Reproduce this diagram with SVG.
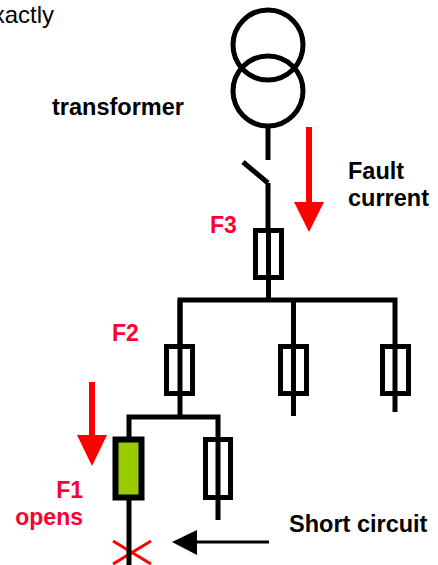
<svg xmlns="http://www.w3.org/2000/svg" width="438" height="565" viewBox="0 0 438 565">
<style>
.w{stroke:#000;stroke-width:5;fill:none}
.fuse{stroke:#000;stroke-width:5;fill:#fff}
.lbl{font-family:"Liberation Sans",Arial,sans-serif;font-weight:bold;font-size:23.5px;fill:#000}
.red{fill:#FF0033;font-size:23px}
.arr{stroke:#FF0000;stroke-width:6;fill:none}
.head{fill:#FF0000}
</style>
<rect width="438" height="565" fill="#fff"/>
<text x="54" y="23" font-family="Liberation Sans,Arial,sans-serif" font-size="24" text-anchor="end" fill="#000">exactly</text>
<g id="transformer">
<circle class="w" cx="268" cy="45" r="35"/>
<circle class="w" cx="268" cy="91" r="35"/>
<text class="lbl" x="52" y="115">transformer</text>
</g>
<g id="switch">
<line class="w" x1="268" y1="126" x2="268" y2="160"/>
<line class="w" x1="243" y1="162" x2="268" y2="183"/>
</g>
<g id="F3">
<rect class="fuse" x="255.5" y="230.5" width="26" height="47"/>
<text class="lbl red" x="210" y="233">F3</text>
</g>
<g id="F2">
<rect class="fuse" x="166.5" y="346.5" width="26" height="47"/>
<text class="lbl red" x="112" y="341">F2</text>
</g>
<g id="fuse_mid">
<rect class="fuse" x="280.5" y="346.5" width="26" height="47"/>
</g>
<g id="fuse_right">
<rect class="fuse" x="382.5" y="346.5" width="26" height="47"/>
</g>
<g id="F1">
<rect x="115.5" y="439.5" width="26" height="58" fill="#99CC00" stroke="#000" stroke-width="6"/>
<text class="lbl red" x="83" y="498" text-anchor="end">F1</text>
<text class="lbl red" x="83" y="525" text-anchor="end">opens</text>
</g>
<g id="fuse_sub_right">
<rect class="fuse" x="205.5" y="439.5" width="25" height="58"/>
</g>
<g id="fault">
<line x1="113" y1="541" x2="151" y2="564" stroke="#FF0000" stroke-width="3"/>
<line x1="113" y1="564" x2="151" y2="541" stroke="#FF0000" stroke-width="3"/>
</g>
<g id="labels">
<text class="lbl" x="348" y="179">Fault</text>
<text class="lbl" x="348" y="206">current</text>
<text class="lbl" x="289" y="532">Short circuit</text>
</g>
<g id="connectors">
<polyline class="w" points="268,183 268,230"/>
<line class="w" x1="268.5" y1="228" x2="268.5" y2="300"/>
<polyline class="w" points="180,345 180,300 395,300 395,412"/>
<line class="w" x1="180" y1="300" x2="180" y2="417"/>
<line class="w" x1="293.5" y1="300" x2="293.5" y2="416"/>
<polyline class="w" points="129,440 129,417 218,417 218,520"/>
<line class="w" x1="129" y1="497" x2="129" y2="565"/>
<line x1="269" y1="542" x2="195" y2="542" stroke="#000" stroke-width="3"/>
<polygon points="172,542 197,530 197,555" fill="#000"/>
<line class="arr" x1="309" y1="127" x2="309" y2="205"/>
<polygon class="head" points="294,202 324,202 309,232"/>
<line class="arr" x1="92" y1="382" x2="92" y2="438"/>
<polygon class="head" points="77,435 107,435 92,466"/>
</g>
</svg>
